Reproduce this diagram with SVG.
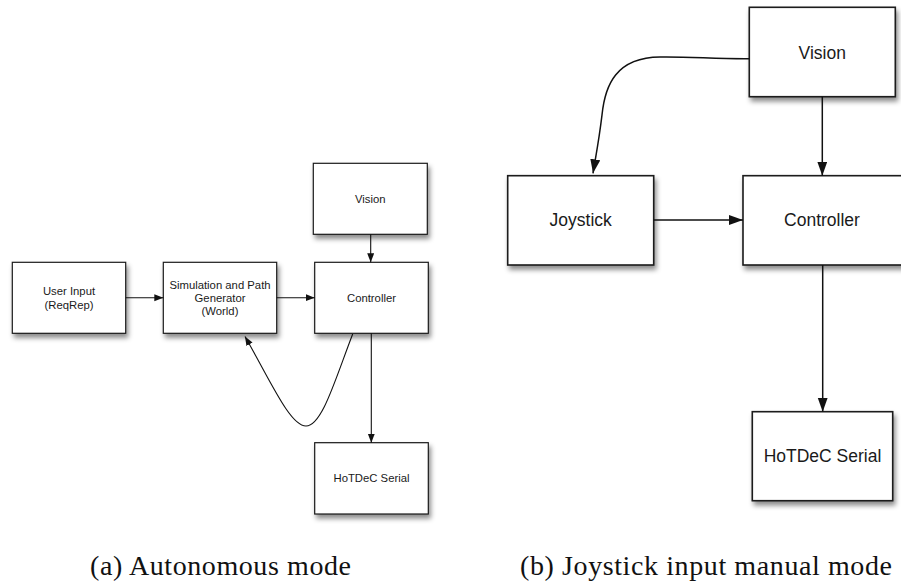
<svg xmlns="http://www.w3.org/2000/svg" width="901" height="584" viewBox="0 0 901 584">
  <style>
    .box { fill: #ffffff; stroke: #1a1a1a; filter: url(#shadow); }
    .small .box { stroke-width: 1.2; }
    .large .box { stroke-width: 1.6; }
    .lbl { font-family: "Liberation Sans", Arial, Helvetica, sans-serif; fill: #1a1a1a; text-anchor: middle; }
    .small .lbl { font-size: 11.3px; }
    .large .lbl { font-size: 17.5px; }
    .edge { fill: none; stroke: #111111; }
    .small-edge { stroke-width: 1.1; marker-end: url(#head-s); }
    .large-edge { stroke-width: 1.5; marker-end: url(#head-l); }
    .caption { font-family: "Liberation Serif", "Times New Roman", serif; font-size: 28px; fill: #111111; }
  </style>
  <defs>
    <filter id="shadow" x="-20%" y="-20%" width="150%" height="160%">
      <feDropShadow dx="2" dy="4" stdDeviation="2.5" flood-color="#000000" flood-opacity="0.45"/>
    </filter>
    <marker id="head-s" markerUnits="userSpaceOnUse" markerWidth="10" markerHeight="8" refX="9" refY="3.5" orient="auto">
      <path d="M0,0 L9,3.5 L0,7 Z" fill="#111111"/>
    </marker>
    <marker id="head-l" markerUnits="userSpaceOnUse" markerWidth="15" markerHeight="11" refX="14" refY="5" orient="auto">
      <path d="M0,0 L14,5 L0,10 Z" fill="#111111"/>
    </marker>
  </defs>

  <rect width="901" height="584" fill="#ffffff"/>

  <!-- (a) Autonomous mode -->
  <g class="small">
    <g id="a-vision">
      <rect class="box" x="313.3" y="163.3" width="114" height="71"/>
      <text class="lbl" x="370.3" y="203">Vision</text>
    </g>
    <g id="a-user-input">
      <rect class="box" x="12.3" y="262.3" width="113.4" height="71"/>
      <text class="lbl" x="69" y="295">User Input</text>
      <text class="lbl" x="69" y="308.5">(ReqRep)</text>
    </g>
    <g id="a-simulation">
      <rect class="box" x="163.3" y="262.3" width="113.4" height="71"/>
      <text class="lbl" x="220" y="289">Simulation and Path</text>
      <text class="lbl" x="220" y="302">Generator</text>
      <text class="lbl" x="220" y="315">(World)</text>
    </g>
    <g id="a-controller">
      <rect class="box" x="314.7" y="262.3" width="113.6" height="71"/>
      <text class="lbl" x="371.5" y="301.7">Controller</text>
    </g>
    <g id="a-hotdec">
      <rect class="box" x="314.7" y="442.7" width="113.6" height="71.3"/>
      <text class="lbl" x="371.5" y="482">HoTDeC Serial</text>
    </g>
    <g id="a-connectors">
      <path class="edge small-edge" d="M370.7,234.3 L370.7,262.3"/>
      <path class="edge small-edge" d="M125.7,297.7 L163.3,297.7"/>
      <path class="edge small-edge" d="M276.7,297.7 L314.7,297.7"/>
      <path class="edge small-edge" d="M371.3,333.3 L371.3,442.7"/>
      <path class="edge small-edge" d="M352.7,334 C335,380 322,426 306,426 C290,426 270,380 245,336.5"/>
    </g>
  </g>

  <!-- (b) Joystick input manual mode -->
  <g class="large">
    <g id="b-vision">
      <rect class="box" x="749.3" y="7.3" width="146" height="89.4"/>
      <text class="lbl" x="822.3" y="58.6">Vision</text>
    </g>
    <g id="b-joystick">
      <rect class="box" x="507.7" y="175.7" width="146" height="89.3"/>
      <text class="lbl" x="580.7" y="226">Joystick</text>
    </g>
    <g id="b-controller">
      <rect class="box" x="743" y="175.7" width="164" height="89.3"/>
      <text class="lbl" x="822" y="226">Controller</text>
    </g>
    <g id="b-hotdec">
      <rect class="box" x="752.3" y="411.7" width="140.4" height="89"/>
      <text class="lbl" x="822.5" y="462">HoTDeC Serial</text>
    </g>
    <g id="b-connectors">
      <path class="edge large-edge" d="M822.3,96.7 L822.3,175.7"/>
      <path class="edge large-edge" d="M653.7,220 L743,220"/>
      <path class="edge large-edge" d="M822.7,265 L822.7,411.7"/>
      <path class="edge large-edge" d="M749.3,58.7 C715,59 690,56.5 660,57 C616,57.5 605,85 602,115 C599,140 596,155 593,173.3"/>
    </g>
  </g>

  <!-- sub-figure captions -->
  <text class="caption" x="90" y="575" textLength="261" lengthAdjust="spacing">(a) Autonomous mode</text>
  <text class="caption" x="520" y="575" textLength="372" lengthAdjust="spacing">(b) Joystick input manual mode</text>
</svg>
